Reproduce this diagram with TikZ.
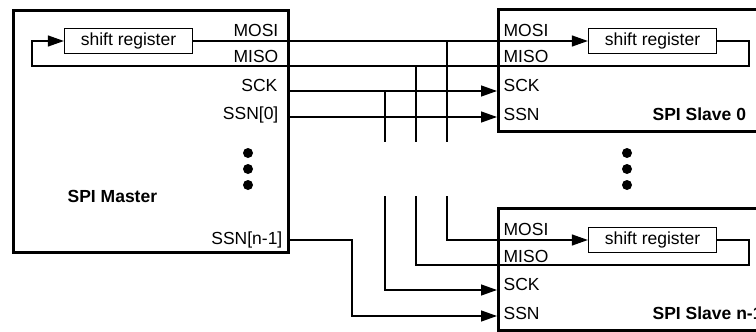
\documentclass[tikz,border=0pt]{standalone}
\usepackage{fontspec}
\setmainfont{Liberation Sans}
\usetikzlibrary{arrows.meta,positioning}

\begin{document}
\begin{tikzpicture}[x=1pt,y=-1pt,>={Triangle[length=16pt,width=11pt]},
  line width=1.3pt,font=\fontsize{17.5}{20}\selectfont,
  chip/.style={draw,line width=3pt,inner sep=0pt},
  shreg/.style={draw,line width=1.3pt,minimum width=128pt,minimum height=25pt,inner sep=0pt},
  pin/.style={inner sep=0pt},
  title/.style={inner sep=0pt,font=\fontsize{17.5}{20}\selectfont\bfseries},
  vdot/.style={fill,circle,inner sep=0pt,minimum size=10pt}]
\useasboundingbox (0,0) rectangle (756,332);
\clip (0,0) rectangle (756,332);

% master
\node[chip,minimum width=275pt,minimum height=242pt] (master) at (150.5,131) {};
\node[shreg] (srm) at (128.5,41) {shift register};
\node[pin,anchor=base east] (m-mosi) at (279,36) {MOSI};
\node[pin,anchor=base east] (m-miso) at (279,63) {MISO};
\node[pin,anchor=base east] (m-sck) at (278,91) {SCK};
\node[pin,anchor=base east] (m-ssn0) at (279,119) {SSN[0]};
\node[pin,anchor=base east] (m-ssn1) at (283,244) {SSN[n-1]};
\node[title,anchor=base west] (m-name) at (67,202) {SPI Master};
\coordinate (msck) at (288,91);
\coordinate (mssn0) at (288,117);
\coordinate (mssn1) at (288,240);

% slaves
\foreach \i/\dy/\lbl in {0/0/0,1/199/n-1} {
  \node[chip,minimum width=282pt,minimum height=122pt] (slave\i) at (639,70+\dy) {};
  \node[shreg] (sr\i) at (652.5,41+\dy) {shift register};
  \node[pin,anchor=base west] (s\i-mosi) at (503,36+\dy) {MOSI};
  \node[pin,anchor=base west] (s\i-miso) at (503,63+\dy) {MISO};
  \node[pin,anchor=base west] (s\i-sck) at (503,91+\dy) {SCK};
  \node[pin,anchor=base west] (s\i-ssn) at (503,120+\dy) {SSN};
  \node[title,anchor=base west] (s\i-name) at (652,120+\dy) {SPI Slave \lbl};
  \coordinate (s\i sck) at (497,91+\dy);
  \coordinate (s\i ssn) at (497,117+\dy);
  \coordinate (loop\i) at (749,66+\dy);
}

% dots
\foreach \y [count=\k] in {153,169,185} {
  \node[vdot] (md\k) at (248,\y) {};
  \node[vdot] (sd\k) at (627,\y) {};
}

% bus taps
\coordinate (loopm) at (32,66);
\coordinate (tmosi) at (447,41);
\coordinate (tmiso) at (416,66);
\coordinate (tsck) at (385,91);
\coordinate (gaptop) at (0,142);
\coordinate (gapbot) at (0,196);

\draw[->] (srm.east) -- (sr0.west);
\draw[->] (sr0.east) -| (loop0) -- (loopm) |- (srm.west);
\draw[->] (msck) -- (s0sck);
\draw[->] (mssn0) -- (s0ssn);
\foreach \t in {tmosi,tmiso,tsck}
  \draw (\t) -- (\t |- gaptop);
\draw[->] (tmosi |- gapbot) |- (sr1.west);
\draw (sr1.east) -| (loop1) -| (tmiso |- gapbot);
\draw[->] (tsck |- gapbot) |- (s1sck);
\draw[->] (mssn1) -- ++(64,0) |- (s1ssn);
\end{tikzpicture}
\end{document}
